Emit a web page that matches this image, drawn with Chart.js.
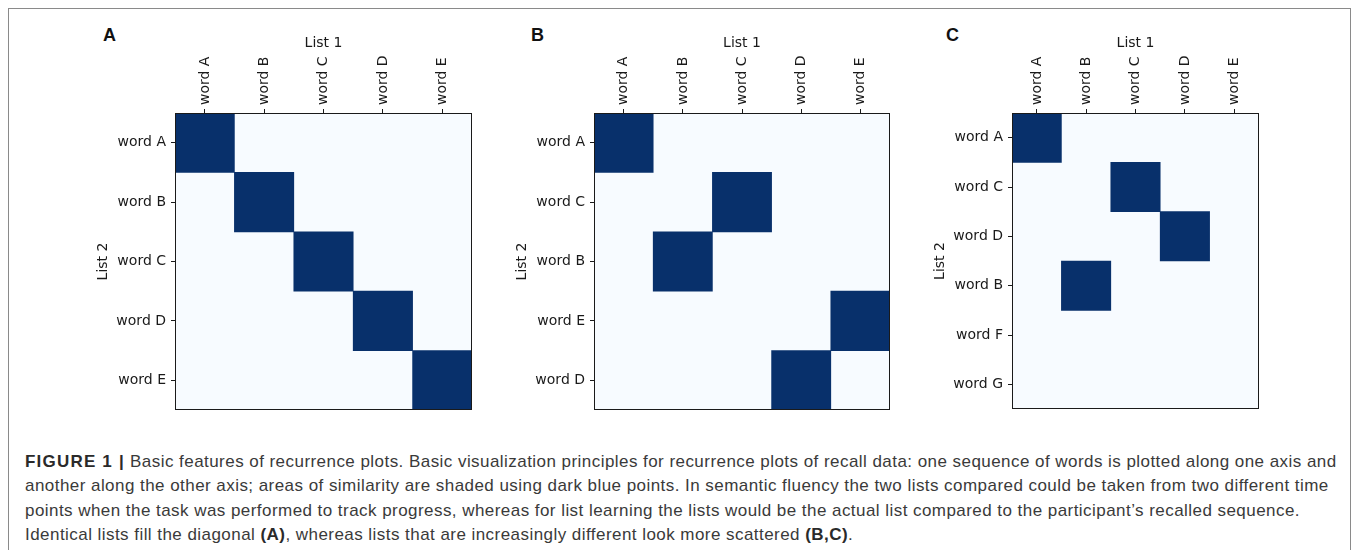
<!DOCTYPE html>
<html>
<head>
<meta charset="utf-8">
<script src="https://cdn.jsdelivr.net/npm/chart.js@4"></script>
<style>
  html, body { margin: 0; padding: 0; background: #fff; }
  body { width: 1358px; height: 550px; position: relative; overflow: hidden; }
  .frame { position: absolute; left: 8px; top: 8px; width: 1341px; height: 600px; border: 1px solid #8a8a8a; border-bottom: none; }
  .panel { position: absolute; }
  .letter { position: absolute; font: bold 18px "Liberation Sans", Arial, sans-serif; color: #111; }
  .caption { position: absolute; left: 25px; top: 450px; font: 17px "Liberation Sans", Arial, sans-serif; letter-spacing: 0.45px; line-height: 24.4px; color: #3a3a3a; white-space: nowrap; }
  .caption b { color: #2a2a2a; }
  .caption b.fig { letter-spacing: 1.2px; }
</style>
</head>
<body>
<div class="frame"></div>
<div class="letter" style="left:103px; top:25px;">A</div>
<div class="letter" style="left:531px; top:25px;">B</div>
<div class="letter" style="left:946px; top:25px;">C</div>

<div class="panel" id="wrapA"><canvas id="chartA"></canvas></div>
<div class="panel" id="wrapB"><canvas id="chartB"></canvas></div>
<div class="panel" id="wrapC"><canvas id="chartC"></canvas></div>

<div class="caption">
<b class="fig">FIGURE 1 |</b> Basic features of recurrence plots. Basic visualization principles for recurrence plots of recall data: one sequence of words is plotted along one axis and<br>
another along the other axis; areas of similarity are shaded using dark blue points. In semantic fluency the two lists compared could be taken from two different time<br>
points when the task was performed to track progress, whereas for list learning the lists would be the actual list compared to the participant’s recalled sequence.<br>
Identical lists fill the diagonal <b>(A)</b>, whereas lists that are increasingly different look more scattered <b>(B,C)</b>.
</div>

<script>
// List 1 (columns) is the same in every panel
const list1 = ["word A", "word B", "word C", "word D", "word E"];

// List 2 (rows) per panel
const list2A = ["word A", "word B", "word C", "word D", "word E"];
const list2B = ["word A", "word C", "word B", "word E", "word D"];
const list2C = ["word A", "word C", "word D", "word B", "word F", "word G"];

// recurrence grids: rows = list 2, columns = list 1 (1 = shaded)
const gridA = [
  [1, 0, 0, 0, 0],
  [0, 1, 0, 0, 0],
  [0, 0, 1, 0, 0],
  [0, 0, 0, 1, 0],
  [0, 0, 0, 0, 1]
];
const gridB = [
  [1, 0, 0, 0, 0],
  [0, 0, 1, 0, 0],
  [0, 1, 0, 0, 0],
  [0, 0, 0, 0, 1],
  [0, 0, 0, 1, 0]
];
const gridC = [
  [1, 0, 0, 0, 0],
  [0, 0, 1, 0, 0],
  [0, 0, 0, 1, 0],
  [0, 1, 0, 0, 0],
  [0, 0, 0, 0, 0],
  [0, 0, 0, 0, 0]
];

const DARK = "#08306b";
const LIGHT = "#f7fbff";
const INK = "#1a1a1a";
const axisFont = { family: "'DejaVu Sans', sans-serif", size: 14 };

const Y_AXIS_W = 85;
const X_AXIS_H = 82;
const PAD_R = 40;
const PAD_B = 16;

// fill the plot area and draw the box around it
const framePlugin = {
  id: "frame",
  beforeDatasetsDraw(chart) {
    const { ctx, chartArea: a } = chart;
    ctx.save();
    ctx.fillStyle = LIGHT;
    ctx.fillRect(a.left, a.top, a.right - a.left, a.bottom - a.top);
    ctx.restore();
  },
  afterDatasetsDraw(chart) {
    const { ctx, chartArea: a } = chart;
    ctx.save();
    ctx.strokeStyle = INK;
    ctx.lineWidth = 1;
    ctx.strokeRect(Math.round(a.left) + 0.5, Math.round(a.top) + 0.5,
      Math.round(a.right - a.left) - 1, Math.round(a.bottom - a.top) - 1);
    ctx.restore();
  }
};

function makePanel(id, wrapId, rows, grid, left, top, w, h) {
  const wrap = document.getElementById(wrapId);
  const cw = Y_AXIS_W + w + PAD_R;
  const ch = X_AXIS_H + h + PAD_B;
  wrap.style.left = (left - Y_AXIS_W) + "px";
  wrap.style.top = (top - X_AXIS_H) + "px";
  wrap.style.width = cw + "px";
  wrap.style.height = ch + "px";

  const cells = [];
  grid.forEach((row, j) => {
    row.forEach((v, i) => {
      if (v) cells.push({ x: list1[i], y: [j, j + 1] });
    });
  });

  new Chart(document.getElementById(id), {
    type: "bar",
    data: {
      labels: list1,
      datasets: [{
        data: cells,
        backgroundColor: DARK,
        borderWidth: 0,
        barPercentage: 1,
        categoryPercentage: 1
      }]
    },
    options: {
      responsive: true,
      maintainAspectRatio: false,
      animation: false,
      layout: { padding: { left: 0, top: 0, right: PAD_R, bottom: PAD_B } },
      plugins: { legend: { display: false }, tooltip: { enabled: false } },
      scales: {
        x: {
          type: "category",
          position: "top",
          offset: true,
          grid: { offset: false, drawOnChartArea: false, drawTicks: true, tickLength: 4, color: INK },
          border: { display: false },
          ticks: { color: INK, font: axisFont, minRotation: 90, maxRotation: 90, padding: 4, labelOffset: 17, autoSkip: false },
          title: { display: true, text: "List 1", color: INK, font: axisFont, padding: { top: 4, bottom: 0 } },
          afterFit(s) { s.height = X_AXIS_H; }
        },
        y: {
          type: "linear",
          reverse: true,
          min: 0,
          max: rows.length,
          grid: { drawOnChartArea: false, drawTicks: true, tickLength: 4, color: INK },
          border: { display: false },
          afterBuildTicks(s) { s.ticks = rows.map((_, i) => ({ value: i + 0.5 })); },
          ticks: { color: INK, font: axisFont, padding: 5, callback: (v, i) => rows[i] },
          title: { display: true, text: "List 2", color: INK, font: axisFont, padding: { top: 5, bottom: 0 } },
          afterFit(s) { s.width = Y_AXIS_W; }
        }
      }
    },
    plugins: [framePlugin]
  });
}

makePanel("chartA", "wrapA", list2A, gridA, 175, 113, 297, 297);
makePanel("chartB", "wrapB", list2B, gridB, 594, 113, 296, 297);
makePanel("chartC", "wrapC", list2C, gridC, 1012, 113, 247, 296);
</script>
</body>
</html>
